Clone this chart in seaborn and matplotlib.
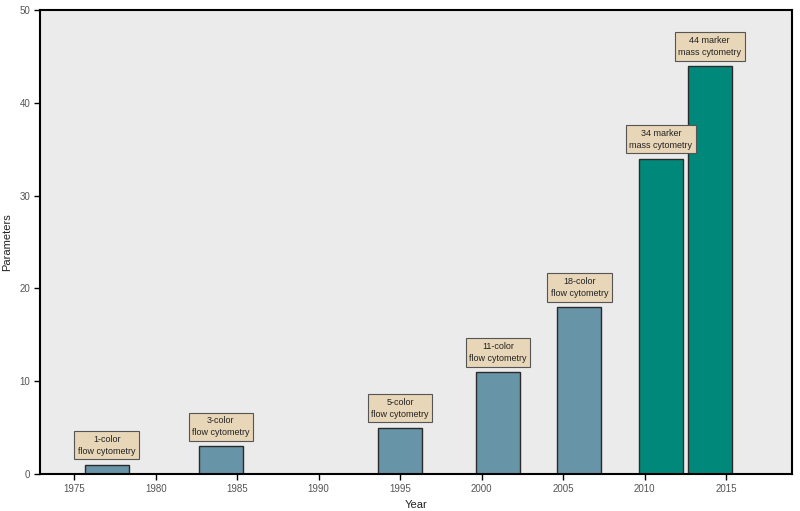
import matplotlib
matplotlib.use("Agg")
import matplotlib.pyplot as plt
import seaborn as sns
import pandas as pd

# dados do grafico
years = [1977, 1984, 1995, 2001, 2006, 2011, 2014]
params = [1, 3, 5, 11, 18, 34, 44]
labels = ["1-color\nflow cytometry", "3-color\nflow cytometry", "5-color\nflow cytometry",
          "11-color\nflow cytometry", "18-color\nflow cytometry",
          "34 marker\nmass cytometry", "44 marker\nmass cytometry"]
tech = ["flow", "flow", "flow", "flow", "flow", "mass", "mass"]
xticks = [1975, 1980, 1985, 1990, 1995, 2000, 2005, 2010, 2015]

df = pd.DataFrame({"year": years, "params": params, "label": labels, "tech": tech})

sns.set_style("white")
plt.rcParams["font.family"] = ["Liberation Sans", "DejaVu Sans"]

fig = plt.figure(figsize=(8, 5.11), dpi=100)
ax = fig.add_axes([0.05, 0.0724, 0.94, 0.9076])
ax.set_facecolor("#ebebeb")

colors = {"flow": "#6894a8", "mass": "#00897a"}
for _, row in df.iterrows():
    ax.bar(row["year"], row["params"], width=2.7, color=colors[row["tech"]],
           edgecolor="#2a2a2a", linewidth=1.0, zorder=2)
    ax.text(row["year"], row["params"] + 2.1, row["label"], ha="center", va="center",
            fontsize=6.5, color="#222222", linespacing=1.45, zorder=3,
            bbox=dict(boxstyle="square,pad=0.4", facecolor="#e8d6b8",
                      edgecolor="#555555", linewidth=0.8))

ax.set_xlim(1972.9, 2019.05)
ax.set_ylim(0, 50)
ax.set_xticks(xticks)
ax.set_yticks([0, 10, 20, 30, 40, 50])
ax.tick_params(axis="both", direction="out", length=4, width=1, color="black",
               labelsize=7, labelcolor="#555555", bottom=True, left=True, pad=3)
for s in ax.spines.values():
    s.set_color("black")
    s.set_linewidth(1.5)
ax.set_xlabel("Year", fontsize=8, color="#222222")
ax.set_ylabel("Parameters", fontsize=8, color="#222222")
ax.xaxis.set_label_coords(0.5, -0.056)
ax.yaxis.set_label_coords(-0.037, 0.5)

fig.savefig("out.png", dpi=100)
